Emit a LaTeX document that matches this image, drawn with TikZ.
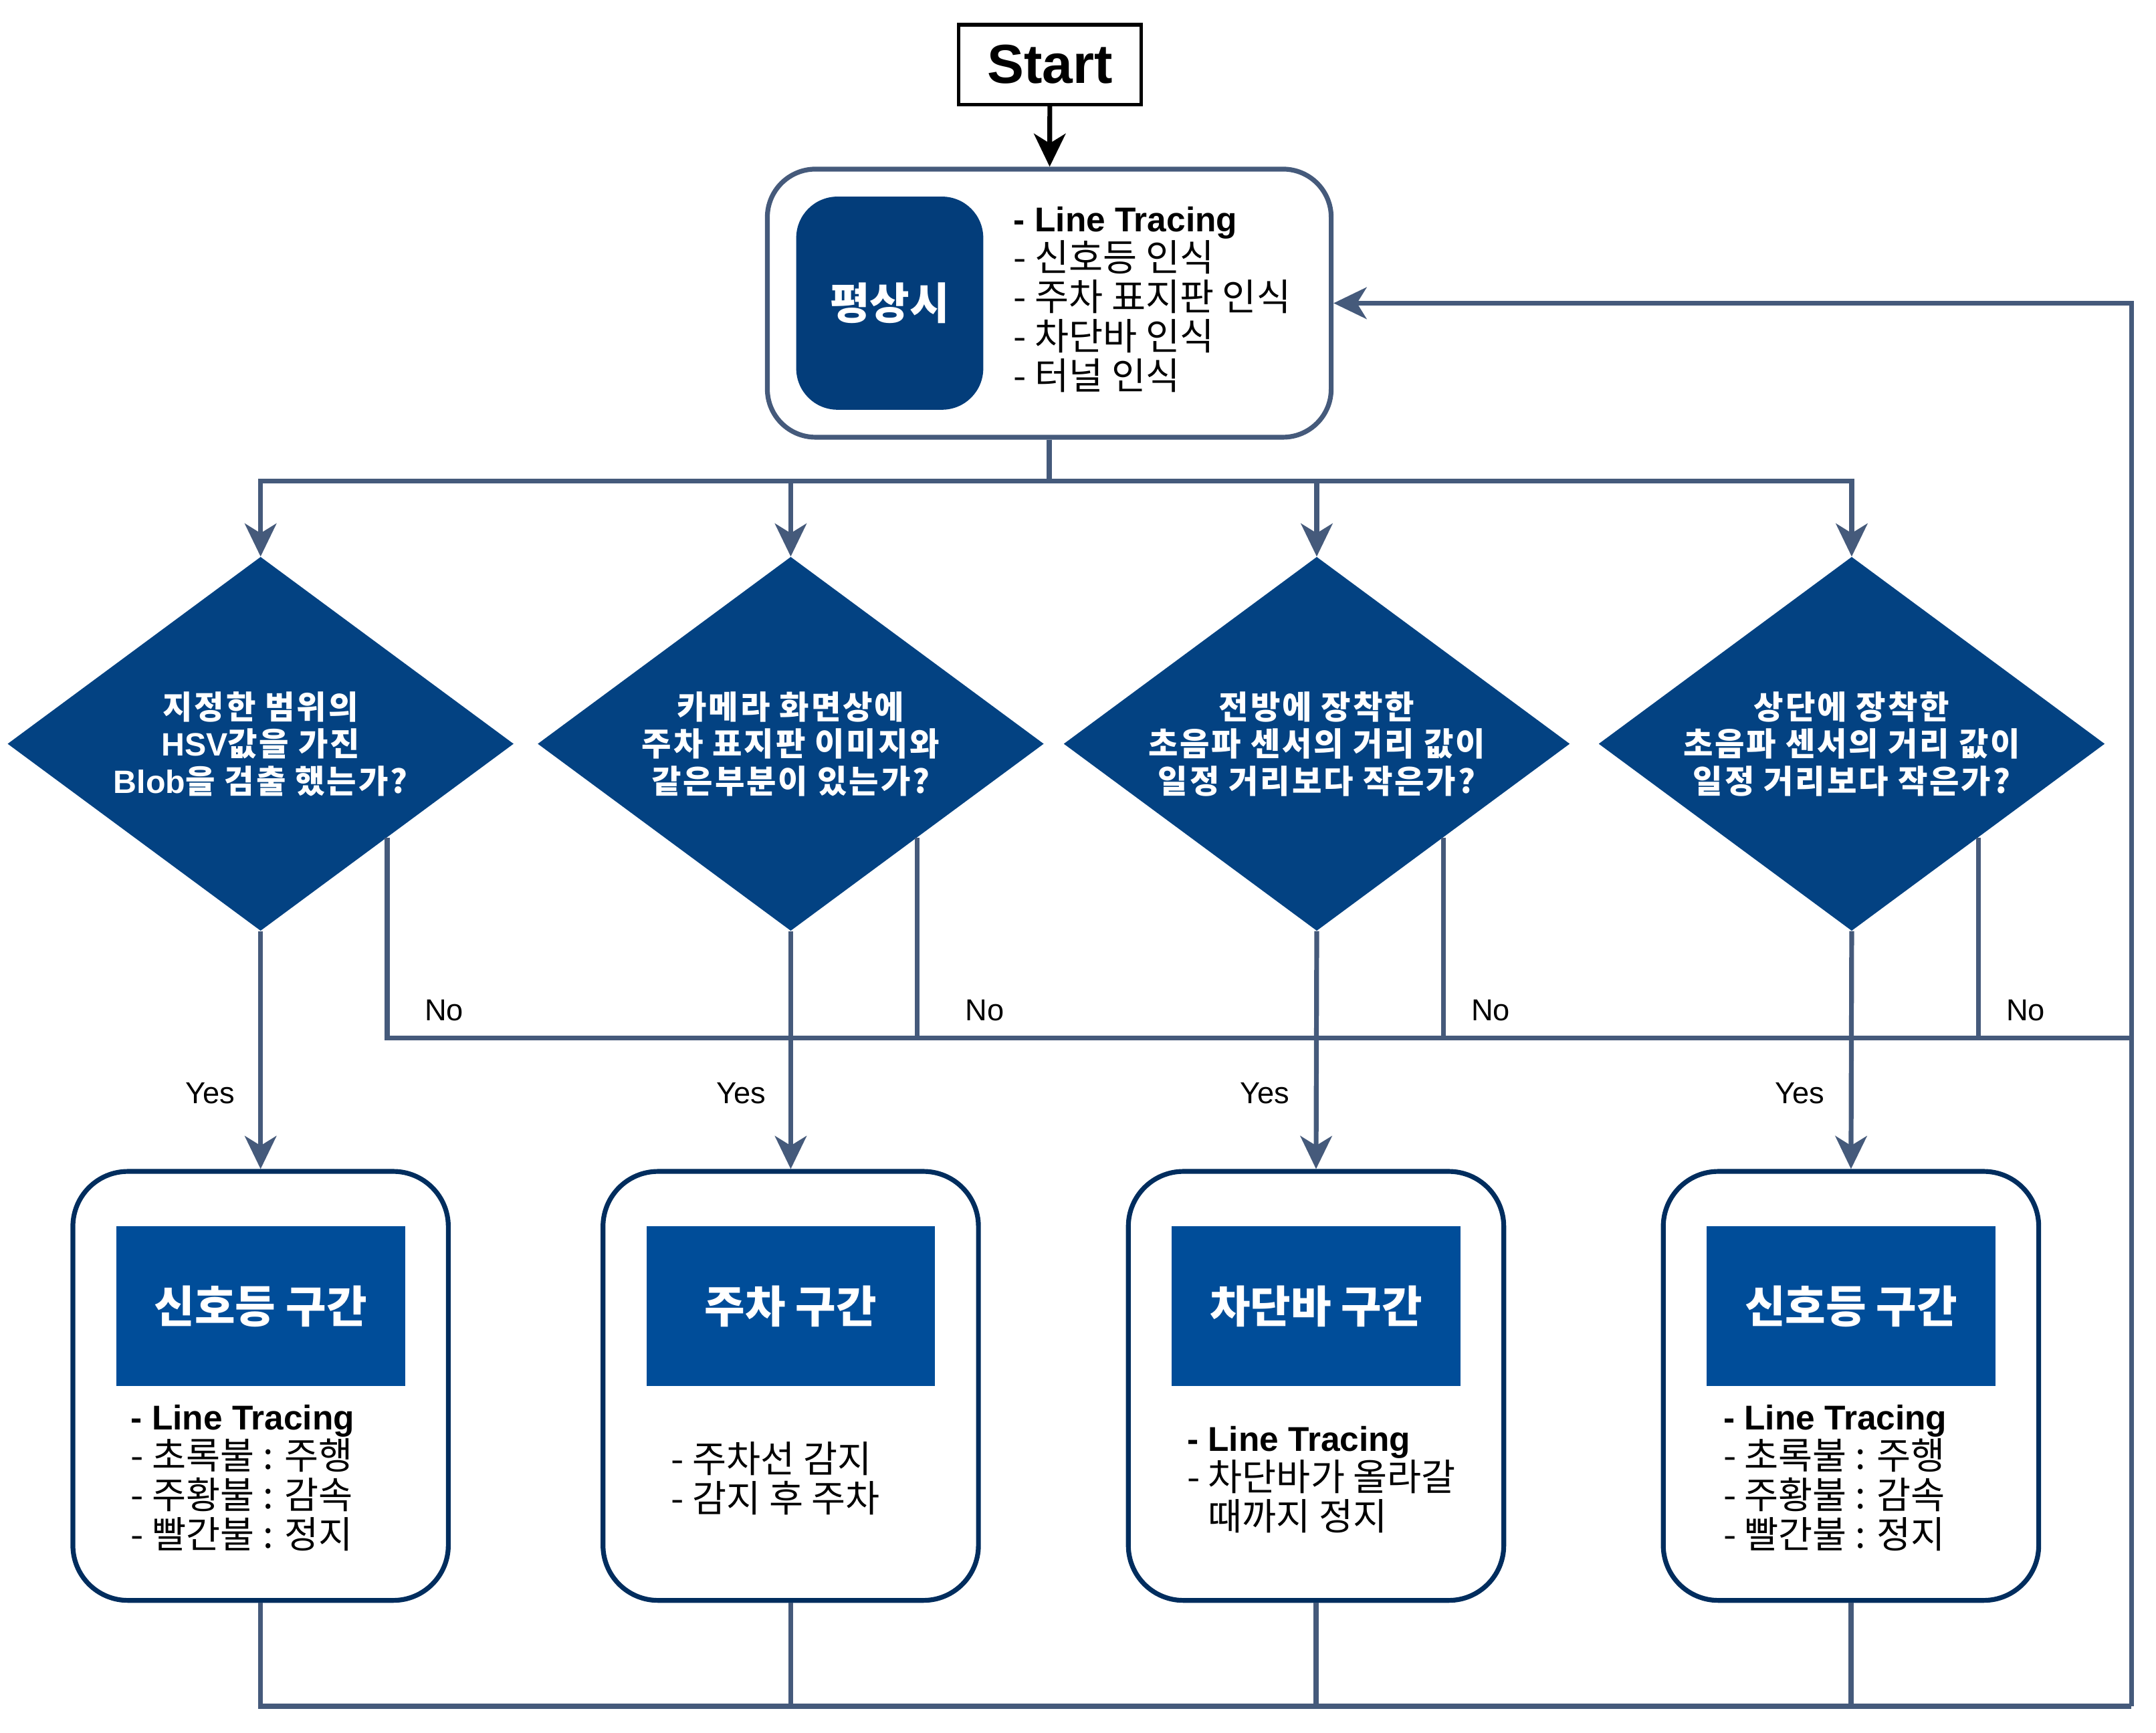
\documentclass[tikz,border=0pt]{standalone}
\usepackage{fontspec}
\setmainfont{Liberation Sans}
\newfontfamily\ko{Noto Sans CJK KR}
\newfontfamily\kod{Noto Sans CJK KR}[LetterSpace=6]
\newcommand\kl{\ko\fontsize{27}{28.75}\selectfont}
\usetikzlibrary{shapes.geometric,arrows.meta,calc}
\definecolor{slate}{HTML}{455A7B}
\definecolor{navyA}{HTML}{033D7A}
\definecolor{dblue}{HTML}{034282}
\definecolor{hblue}{HTML}{004D99}
\definecolor{navyB}{HTML}{002D5E}
\tikzset{
  conn/.style={draw=slate, line width=3.5pt},
  arr/.style={-{Stealth[length=24pt,width=23pt,inset=7pt]}},
  diam/.style={diamond, aspect=1.36, fill=dblue, minimum width=368pt, minimum height=272pt,
    inner sep=0pt, text=white, align=center, font=\kod\bfseries\fontsize{23.5}{27}\selectfont},
  zbox/.style={draw=navyB, line width=3.5pt, rounded corners=40pt, minimum width=273pt,
    minimum height=312pt, fill=white},
  hdr/.style={fill=hblue, minimum width=210pt, minimum height=116pt, inner sep=0pt, text=white,
    font=\ko\bfseries\fontsize{32}{36}\selectfont},
  lst/.style={anchor=west, align=left, inner sep=0pt, font=\fontsize{25}{28.75}\selectfont},
  lbl/.style={inner sep=0pt, font=\fontsize{22}{26}\selectfont},
}
\begin{document}
\begin{tikzpicture}[x=1pt,y=-1pt]
\useasboundingbox (0,0) rectangle (1567.8,1260.4);

% Start
\node[draw=black, line width=2.5pt, minimum width=133pt, minimum height=58pt, inner sep=0pt,
  font=\fontsize{40}{48}\selectfont\bfseries] (start) at (763.5,47) {\raisebox{-1.5pt}{Start}};

% main box
\node[draw=slate, line width=3.5pt, rounded corners=35pt, minimum width=410pt,
  minimum height=195pt, fill=white] (main) at (763,220.5) {};
\node[fill=navyA, rounded corners=30pt, minimum width=136pt, minimum height=155pt, inner sep=0pt,
  text=white, font=\ko\bfseries\fontsize{31.5}{36}\selectfont] (ps) at (647,220.5) {평상시};
\node[lst] (pslist) at (737,218) {{\bfseries - Line Tracing}\\{\kl - 신호등 인식}\\{\kl - 주차 표지판 인식}\\{\kl - 차단바 인식}\\{\kl - 터널 인식}};

\draw[line width=3.5pt, black, arr] (start) -- (main);

% diamonds
\node[diam] (d1) at (189.5,541) {지정한 범위의\\{\rmfamily\bfseries HSV}값을 가진\\{\rmfamily\bfseries Blob}을 검출 했는가?};
\node[diam] (d2) at (575,541) {카메라 화면상에\\주차 표지판 이미지와\\같은부분이 있는가?};
\node[diam] (d3) at (957.5,541) {전방에 장착한\\초음파 센서의 거리 값이\\일정 거리보다 작은가?};
\node[diam] (d4) at (1346.5,541) {상단에 장착한\\초음파 센서의 거리 값이\\일정 거리보다 작은가?};

% bottom boxes
\node[zbox] (b1) at (189.5,1008) {};
\node[zbox] (b2) at (575,1008) {};
\node[zbox] (b3) at (957,1008) {};
\node[zbox] (b4) at (1346,1008) {};
\node[hdr] (h1) at (189.5,950) {신호등 구간};
\node[hdr] (h2) at (575,950) {주차 구간};
\node[hdr] (h3) at (957,950) {차단바 구간};
\node[hdr] (h4) at (1346,950) {신호등 구간};
\node[lst] (l1) at (95,1075) {{\bfseries - Line Tracing}\\{\kl - 초록불 : 주행}\\{\kl - 주황불 : 감속}\\{\kl - 빨간불 : 정지}};
\node[lst] (l2) at (488,1075.5) {{\kl - 주차선 감지}\\{\kl - 감지 후 주차}};
\node[lst] (l3) at (863,1076) {{\bfseries - Line Tracing}\\{\kl - 차단바가 올라갈}\\{\kl\hphantom{- }때까지 정지}};
\node[lst] (l4) at (1253,1075) {{\bfseries - Line Tracing}\\{\kl - 초록불 : 주행}\\{\kl - 주황불 : 감속}\\{\kl - 빨간불 : 정지}};

% coordinates
\coordinate (split) at (763,350);
\coordinate (nobus) at (1550,755);
\coordinate (rb) at (1550,1241);
\coordinate (n1) at ($(d1.south)!0.5!(d1.east)$);
\coordinate (n2) at ($(d2.south)!0.5!(d2.east)$);
\coordinate (n3) at ($(d3.south)!0.5!(d3.east)$);
\coordinate (n4) at ($(d4.south)!0.5!(d4.east)$);

% split to diamonds
\draw[conn] (main.south) -- (split);
\draw[conn,arr] (split) -| (d1.north);
\draw[conn,arr] (split) -| (d2.north);
\draw[conn,arr] (split) -| (d3.north);
\draw[conn,arr] (split) -| (d4.north);

% yes branches
\draw[conn,arr] (d1.south) -- (b1.north);
\draw[conn,arr] (d2.south) -- (b2.north);
\draw[conn,arr] (d3.south) -- (b3.north);
\draw[conn,arr] (d4.south) -- (b4.north);

% no branches
\draw[conn] (n1) |- (nobus);
\draw[conn] (n2) |- (nobus);
\draw[conn] (n3) |- (nobus);
\draw[conn] (n4) |- (nobus);

% bottom return
\draw[conn] (b1.south) |- (rb);
\draw[conn] (b2.south) |- (rb);
\draw[conn] (b3.south) |- (rb);
\draw[conn] (b4.south) |- (rb);
\draw[conn,arr] (rb) |- (main.east);

% labels
\node[lbl, anchor=east] (y1) at (171,795) {Yes};
\node[lbl, anchor=east] (y2) at (557,795) {Yes};
\node[lbl, anchor=east] (y3) at (938,795) {Yes};
\node[lbl, anchor=east] (y4) at (1327,795) {Yes};
\node[lbl] (no1) at (323,735) {No};
\node[lbl] (no2) at (716,735) {No};
\node[lbl] (no3) at (1084,735) {No};
\node[lbl] (no4) at (1473,735) {No};
\end{tikzpicture}
\end{document}
